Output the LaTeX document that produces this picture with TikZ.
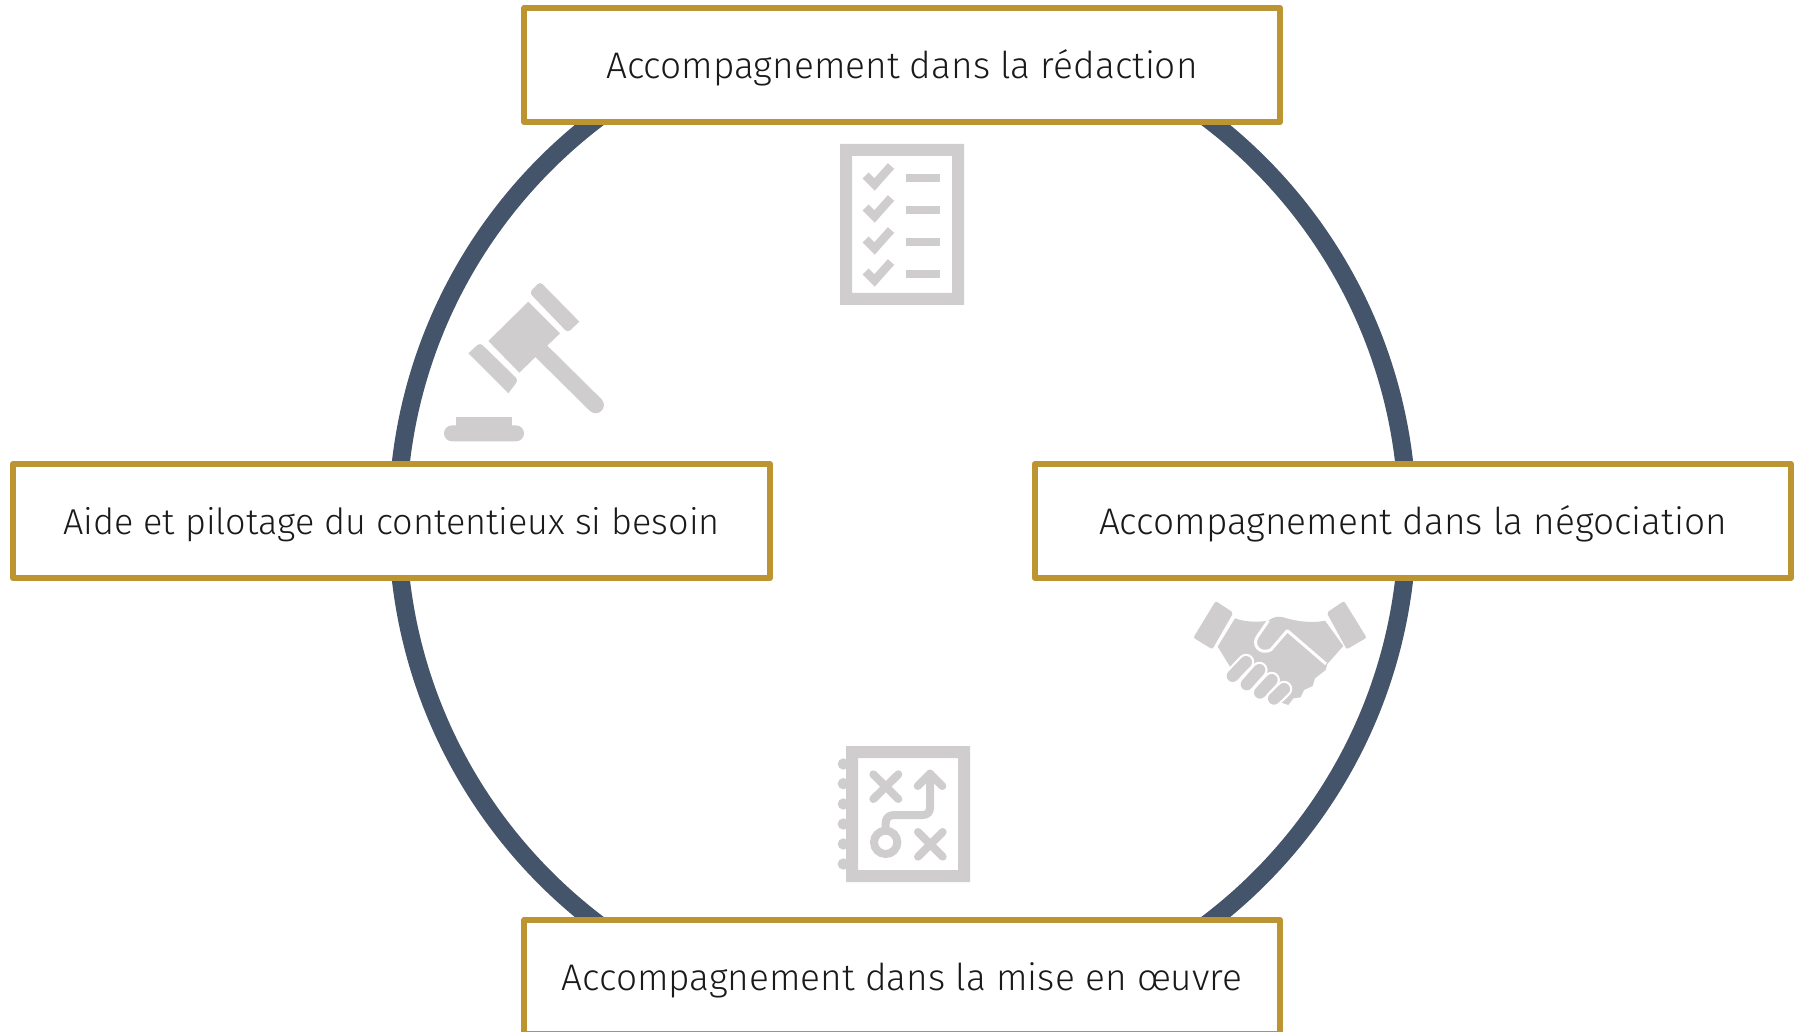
\documentclass[tikz,border=0pt]{standalone}
\usepackage{fontspec}
\setmainfont{Fira Sans Light}
\definecolor{ring}{HTML}{44546A}
\definecolor{gold}{HTML}{BC9432}
\definecolor{icon}{HTML}{CFCDCE}
\definecolor{ink}{HTML}{1A1A1A}
\tikzset{
  lab/.style={draw=gold,line width=6pt,line join=round,fill=white,text=ink,inner sep=0pt,
    font=\fontsize{37}{44}\selectfont,minimum height=114pt,text height=37pt,text depth=10pt},
  ic/.style={fill=icon,draw=none},
  icl/.style={draw=icon,line width=8pt,fill=none},
  iconbox/.style={x=1pt/3,y=-1pt/3}
}
\begin{document}
\begin{tikzpicture}[x=1pt,y=-1pt]
\useasboundingbox (0,0) rectangle (1794,1032);
\clip (0,0) rectangle (1794,1032);
\node[draw=ring,line width=18pt,circle,minimum size=1010pt,inner sep=0pt] (wheel) at (902.5,521) {};
\node[lab,minimum width=756pt] (top) at (902,65) {Accompagnement dans la rédaction};
\node[lab,minimum width=756pt] (bottom) at (902,977) {Accompagnement dans la mise en œuvre};
\node[lab,minimum width=757pt,font=\fontsize{36}{44}\selectfont] (left) at (391.5,521) {Aide et pilotage du contentieux si besoin};
\node[lab,minimum width=756pt] (right) at (1413,521) {Accompagnement dans la négociation};
% checklist
\begin{scope}
\fill[ic,even odd rule] (840,144) rectangle (964,305) (852,156) rectangle (952,293);
\foreach \d in {0,32,64,96}{
  \draw[icl,line width=8.5pt] (865.5,175.5+\d) -- (874.5,184.5+\d) -- (891,166+\d);
  \fill[ic] (906,174+\d) rectangle (940,182+\d);
}
\end{scope}
% gavel
\begin{scope}[shift={(430,270)},iconbox]
\fill[ic] (295,95) -- (390,190) -- (268,308) -- (175,213) -- cycle;
\draw[icl,line width=16.5pt,line cap=round] (335,245) -- (497,405);
\fill[ic,rounded corners=3.5pt] (330,35) [sharp corners] -- (448,155) [rounded corners=3.5pt] -- (413,188) -- (298,68) -- cycle;
\fill[ic] (115,250) [rounded corners=3.5pt] -- (150,218) -- (265,330) [sharp corners] -- (235,370) -- cycle;
\fill[ic] (78,442) rectangle (246,470);
\fill[ic,rounded corners=8pt] (42,466) rectangle (282,514);
\end{scope}
% handshake
\begin{scope}[shift={(1180,590)},iconbox]
\fill[ic,rounded corners=2pt] (107,33) -- (160,68) -- (97,178) -- (40,143) -- cycle;
\fill[ic,rounded corners=2pt] (492,33) -- (560,143) -- (500,178) -- (440,68) -- cycle;
\fill[ic] (165,85) .. controls (200,98) and (240,96) .. (265,92) .. controls (280,80) and (295,78) .. (310,82)
  .. controls (350,95) and (400,100) .. (435,92) -- (490,168) -- (442,222) -- (437,240) -- (405,265) -- (398,288) -- (372,300) -- (362,322) -- (340,325) -- (325,345) -- (305,338) -- (150,230) -- (113,170) -- cycle;
\draw[white,line width=3pt,line join=round] (265,92) -- (232,140) .. controls (215,165) and (240,195) .. (272,180) -- (322,122) -- (438,222);
\foreach \a/\b/\c/\e in {158/258/198/216, 200/283/238/240, 240/308/275/270, 282/326/312/297}{
  \draw[white,line width=16.5pt,line cap=round] (\a,\b) -- (\c,\e);
  \draw[icl,line width=12pt,line cap=round] (\a,\b) -- (\c,\e);
}
\end{scope}
% playbook
\begin{scope}[shift={(825,735)},iconbox]
\foreach \y in {87,146,207,267,327,387}{ \fill[ic] (55,\y) circle[radius=17]; }
\fill[ic,even odd rule] (63,33) rectangle (435,441) (99,69) rectangle (399,405);
\draw[icl,line cap=round] (145,118) -- (220,192) (220,118) -- (145,192);
\draw[icl,line cap=round] (279,291) -- (353,365) (353,291) -- (279,365);
\draw[icl] (182,322) circle[radius=35];
\draw[icl,line cap=round,line join=round] (182,287) -- (182,265) .. controls (182,248) and (192,240) .. (208,240) -- (292,240) .. controls (308,240) and (315,232) .. (315,216) -- (315,116);
\draw[icl,line cap=round,line join=round] (278,153) -- (315,116) -- (352,153);
\end{scope}
\end{tikzpicture}
\end{document}
